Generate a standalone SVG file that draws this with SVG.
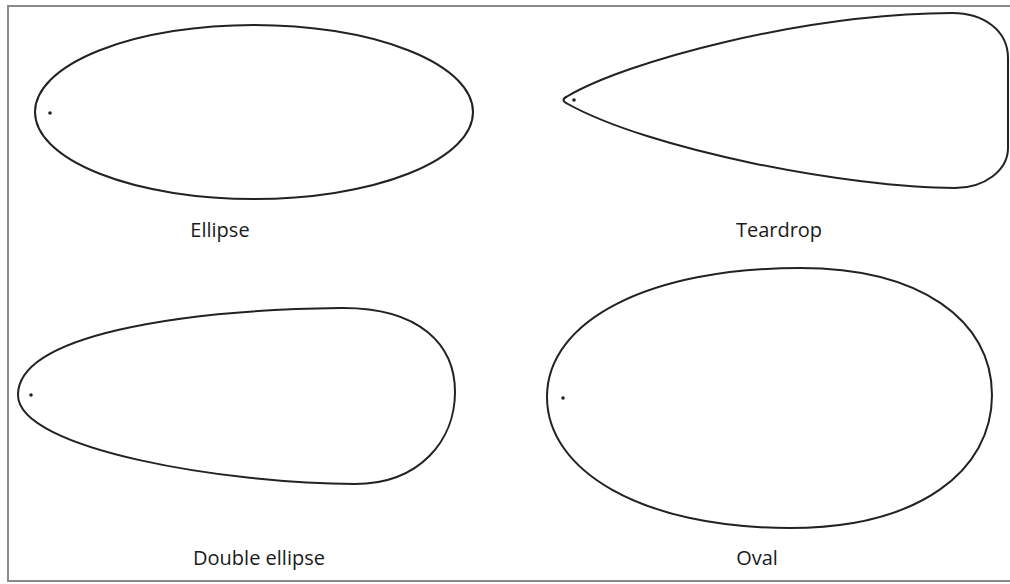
<svg xmlns="http://www.w3.org/2000/svg" width="1010" height="584" viewBox="0 0 1010 584">
<style>
.shape{fill:none;stroke:#222;stroke-width:2;stroke-linejoin:round}
.dot{fill:#222}
.lbl{font-family:"Open Sans","Liberation Sans",sans-serif;font-size:20px;fill:#1a1a1a;text-anchor:middle}
</style>
<rect x="0" y="0" width="1010" height="584" fill="#fff"/>
<rect x="8" y="6" width="1010" height="575" fill="none" stroke="#8a8a8a" stroke-width="2"/>
<g id="ellipse">
<ellipse class="shape" cx="254" cy="112" rx="219" ry="87"/>
<circle class="dot" cx="50" cy="113" r="1.8"/>
<text class="lbl" x="220" y="237">Ellipse</text>
</g>
<g id="teardrop">
<path class="shape" d="M567,96.5 C625,62 800,14 952,13 C983,13 1008,30 1008,58 L1008,148 C1008,170 985,188 955,188 C850,188 650,150 567,103.5 Q560,100 567,96.5 Z"/>
<circle class="dot" cx="574" cy="100" r="1.8"/>
<text class="lbl" x="779" y="237">Teardrop</text>
</g>
<g id="double-ellipse">
<path class="shape" d="M18,395 C18,335 180,310 340,308 C420,307 455,345 455,392 C455,440 420,484 355,484 C230,484 18,450 18,395 Z"/>
<circle class="dot" cx="31" cy="395" r="1.8"/>
<text class="lbl" x="259" y="565">Double ellipse</text>
</g>
<g id="oval">
<path class="shape" d="M547,397 C547,320 650,268 800,268 C920,268 992,320 992,395 C992,470 920,528 790,528 C640,528 547,470 547,397 Z"/>
<circle class="dot" cx="563" cy="398" r="1.8"/>
<text class="lbl" x="757" y="565">Oval</text>
</g>
<g id="connectors"></g>
</svg>
